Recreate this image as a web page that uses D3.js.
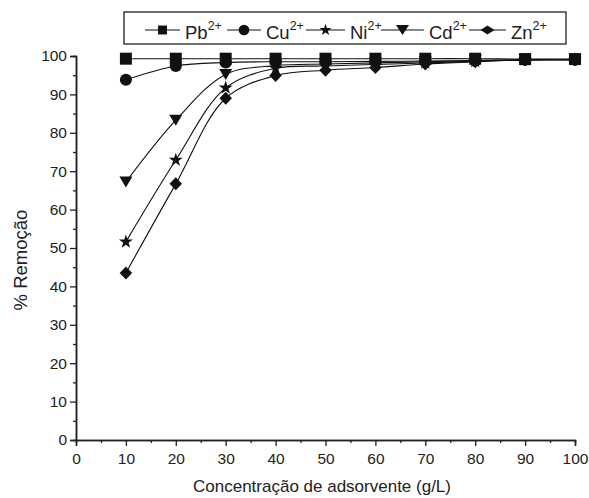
<!DOCTYPE html>
<html><head><meta charset="utf-8">
<script src="https://cdn.jsdelivr.net/npm/d3@7"></script>
<style>body{margin:0;background:#fff}svg{display:block}text{font-family:"Liberation Sans",Arial,sans-serif;fill:#222}</style>
</head><body><svg id="c" width="589" height="498"></svg>
<script>
const xValues = [10, 20, 30, 40, 50, 60, 70, 80, 90, 100];
const seriesNames = ["Pb", "Cu", "Ni", "Cd", "Zn"];
const pb = [99.3, 99.3, 99.3, 99.3, 99.3, 99.3, 99.3, 99.3, 99.2, 99.2];
const cu = [93.8, 97.4, 98.3, 98.5, 98.5, 98.6, 98.7, 98.8, 99.0, 99.0];
const ni = [51.6, 72.9, 91.7, 96.8, 97.4, 97.8, 98.2, 98.6, 99.0, 99.1];
const cd = [67.2, 83.3, 95.2, 97.5, 97.9, 98.2, 98.5, 98.8, 99.0, 99.1];
const zn = [43.5, 66.7, 89.0, 94.9, 96.3, 97.0, 97.9, 98.5, 99.0, 99.0];
const xTicks = [0, 10, 20, 30, 40, 50, 60, 70, 80, 90, 100];
const yTicks = [0, 10, 20, 30, 40, 50, 60, 70, 80, 90, 100];

const svg = d3.select("#c");
const x = d3.scaleLinear().domain([0, 100]).range([76, 575]);
const y = d3.scaleLinear().domain([0, 100]).range([440, 56]);

// axes
const xa = svg.append("g").attr("transform", "translate(0,440)")
  .call(d3.axisBottom(x).tickValues(xTicks).tickSize(6).tickPadding(6).tickFormat(d3.format("d")));
const xm = svg.append("g").attr("transform", "translate(0,440)")
  .call(d3.axisBottom(x).tickValues(d3.range(5, 100, 10)).tickSize(3).tickFormat(""));
const ya = svg.append("g").attr("transform", "translate(76,0)")
  .call(d3.axisLeft(y).tickValues(yTicks).tickSize(6).tickPadding(3).tickFormat(d3.format("d")));
const ym = svg.append("g").attr("transform", "translate(76,0)")
  .call(d3.axisLeft(y).tickValues(d3.range(5, 100, 10)).tickSize(3).tickFormat(""));
[xa, xm, ya, ym].forEach(g => {
  g.select(".domain").attr("stroke", "#222").attr("stroke-width", 1.5);
  g.selectAll(".tick line").attr("stroke", "#222").attr("stroke-width", 1.3);
  g.selectAll("text").attr("font-size", 15.5).attr("fill", "#222").attr("font-family", "Liberation Sans, Arial, sans-serif");
});
xa.selectAll("text").attr("dy", "0.8em");

svg.append("text").attr("x", 322).attr("y", 492).attr("text-anchor", "middle")
  .attr("font-size", 17).text("Concentração de adsorvente (g/L)");
svg.append("text").attr("transform", "translate(27,260) rotate(-90)").attr("text-anchor", "middle")
  .attr("font-size", 18.5).text("% Remoção");

function diamond(w, h) {
  return `M0,${-h / 2}L${w / 2},0L0,${h / 2}L${-w / 2},0Z`;
}
function triangleDown(w, h) {
  return `M${-w / 2},${-h / 2}L${w / 2},${-h / 2}L0,${h / 2}Z`;
}
const markers = [
  () => d3.symbol().type(d3.symbolSquare).size(144)(),
  () => d3.symbol().type(d3.symbolCircle).size(115)(),
  () => d3.symbol().type(d3.symbolStar).size(60)(),
  () => triangleDown(13, 11),
  () => diamond(12.5, 13)
];
const legendMarkers = [
  () => d3.symbol().type(d3.symbolSquare).size(80)(),
  () => d3.symbol().type(d3.symbolCircle).size(90)(),
  () => d3.symbol().type(d3.symbolStar).size(45)(),
  () => triangleDown(13, 10),
  () => diamond(14, 9)
];

const data = [pb, cu, ni, cd, zn];
const line = d3.line().x((d, i) => x(xValues[i])).y(d => y(d)).curve(d3.curveCatmullRom);

const plot = svg.append("g");
data.forEach((arr) => {
  plot.append("path").attr("d", line(arr)).attr("fill", "none").attr("stroke", "#111").attr("stroke-width", 1.1);
});
data.forEach((arr, k) => {
  plot.selectAll(null).data(arr).enter().append("path")
    .attr("d", markers[k]())
    .attr("transform", (d, i) => `translate(${x(xValues[i])},${y(d)})`)
    .attr("fill", "#111");
});

// legend
const lg = svg.append("g");
lg.append("rect").attr("x", 124).attr("y", 12).attr("width", 442).attr("height", 32)
  .attr("fill", "#fff").attr("stroke", "#222").attr("stroke-width", 1.3);
const lineStarts = [145, 227, 306, 381, 469];
const lineEnds = [180, 261, 345, 424, 506];
lineStarts.forEach((s, k) => {
  const e = lineEnds[k];
  lg.append("line").attr("x1", s).attr("x2", e).attr("y1", 30).attr("y2", 30).attr("stroke", "#111").attr("stroke-width", 1.2);
  lg.append("path").attr("d", legendMarkers[k]()).attr("transform", `translate(${(s + e) / 2},30)`).attr("fill", "#111");
  const t = lg.append("text").attr("x", e + 5).attr("y", 39).attr("font-size", 18.5);
  t.append("tspan").text(seriesNames[k]);
  t.append("tspan").attr("font-size", 12.5).attr("dy", -9).text("2+");
});
</script></body></html>
